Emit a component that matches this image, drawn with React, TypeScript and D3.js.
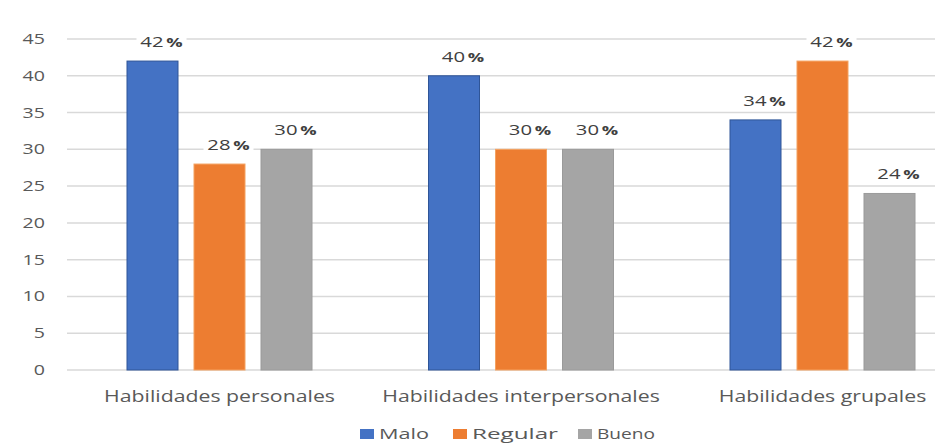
import React from "react";
import * as d3 from "d3";

// Categories, series and values
const categories = ["Habilidades personales", "Habilidades interpersonales", "Habilidades grupales"];
const seriesNames = ["Malo", "Regular", "Bueno"];
const malo = [42, 40, 34];
const regular = [28, 30, 42];
const bueno = [30, 30, 24];
const yTicks = [0, 5, 10, 15, 20, 25, 30, 35, 40, 45];

const seriesValues = [malo, regular, bueno];
const fills = ["#4472C4", "#ED7D31", "#A5A5A5"];
const strokes = ["#2F5597", "#F4A261", "#9A9A9A"];

const W = 935;
const H = 444;
const FONT = "'Open Sans', 'DejaVu Sans', sans-serif";
const TEXT = "#595959";
const LABEL = "#404040";

export default function App() {
  const y = d3.scaleLinear().domain([0, 45]).range([370, 39]);
  const x0 = d3.scaleBand<string>().domain(categories).range([68.75, 973.25]);
  const x1 = d3
    .scaleBand<string>()
    .domain(seriesNames)
    .range([0, 201])
    .paddingInner(16 / 67)
    .paddingOuter(8 / 67);

  const gridLeft = 67;
  const gridRight = W;

  const stretched = (sx: number, tx: number, ty: number) => `translate(${tx},${ty}) scale(${sx},1)`;

  const legendItems = [
    { name: seriesNames[0], x: 360, tw: 50 },
    { name: seriesNames[1], x: 453, tw: 86 },
    { name: seriesNames[2], x: 578, tw: 58 },
  ];

  return (
    <div style={{ position: "fixed", left: 0, top: 0 }}>
      <svg width={W} height={H} style={{ display: "block", background: "#fff" }}>
        {/* horizontal gridlines */}
        {yTicks.map((t) => (
          <line
            key={`g${t}`}
            x1={gridLeft}
            x2={gridRight}
            y1={y(t)}
            y2={y(t)}
            stroke="#D9D9D9"
            strokeWidth={1.5}
          />
        ))}
        {/* y tick labels */}
        {yTicks.map((t) => (
          <text
            key={`t${t}`}
            transform={stretched(1.4, 45, y(t) + 5)}
            textAnchor="end"
            fontFamily={FONT}
            fontSize={14}
            fill={TEXT}
          >
            {t}
          </text>
        ))}
        {/* bars */}
        {categories.map((c, ci) => {
          const gx = (x0(c) as number) + x0.bandwidth() / 2 - 100.5;
          return (
            <g key={c}>
              {seriesNames.map((s, si) => {
                const v = seriesValues[si][ci];
                const bx = gx + (x1(s) as number);
                return (
                  <rect
                    key={s}
                    x={bx}
                    y={y(v)}
                    width={x1.bandwidth()}
                    height={y(0) - y(v)}
                    fill={fills[si]}
                    stroke={strokes[si]}
                    strokeWidth={1}
                  />
                );
              })}
            </g>
          );
        })}
        {/* value labels */}
        {categories.map((c, ci) => {
          const gx = (x0(c) as number) + x0.bandwidth() / 2 - 100.5;
          return (
            <g key={`l${c}`}>
              {seriesNames.map((s, si) => {
                const v = seriesValues[si][ci];
                const cx = gx + (x1(s) as number) + x1.bandwidth() / 2 + 9;
                const by = y(v) - 14;
                return (
                  <g key={s}>
                    <rect x={cx - 25} y={by - 15} width={50} height={20} fill="#fff" />
                    <text
                      transform={stretched(1.4, cx, by)}
                      textAnchor="middle"
                      fontFamily={FONT}
                      fontSize={14.5}
                      fill={LABEL}
                    >
                      {v}
                      <tspan fontWeight="bold" fontSize={13} dx={2}>
                        %
                      </tspan>
                    </text>
                  </g>
                );
              })}
            </g>
          );
        })}
        {/* category labels */}
        {categories.map((c) => (
          <text
            key={`c${c}`}
            transform={stretched(1.33, (x0(c) as number) + x0.bandwidth() / 2, 402)}
            textAnchor="middle"
            fontFamily={FONT}
            fontSize={16}
            fill={TEXT}
          >
            {c}
          </text>
        ))}
        {/* legend */}
        {legendItems.map((it, i) => (
          <g key={it.name}>
            <rect x={it.x} y={429} width={14} height={10} fill={fills[i]} />
            <text
              x={it.x + 19}
              y={439}
              fontFamily={FONT}
              fontSize={15}
              fill={TEXT}
              textLength={it.tw}
              lengthAdjust="spacingAndGlyphs"
            >
              {it.name}
            </text>
          </g>
        ))}
      </svg>
    </div>
  );
}
